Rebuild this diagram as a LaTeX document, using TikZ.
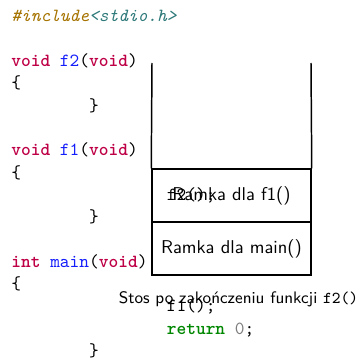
\documentclass[tikz,border=0pt]{standalone}
\usepackage{fontspec}
\definecolor{kwcol}{RGB}{190,0,70}
\definecolor{fncol}{RGB}{20,30,250}
\definecolor{ppcol}{RGB}{165,115,0}
\definecolor{hdcol}{RGB}{45,120,120}
\definecolor{retcol}{RGB}{0,135,0}
\definecolor{numcol}{RGB}{125,125,125}
\newcommand{\kw}[1]{{\color{kwcol}\bfseries #1}}
\newcommand{\fn}[1]{{\color{fncol}#1}}

\begin{document}
\begin{tikzpicture}[x=0.54pt, y=-0.54pt,
  code/.style={anchor=base west, inner sep=0pt, font=\ttfamily},
  frame/.style={draw, line width=0.8pt, minimum width=159*0.54pt, minimum height=53*0.54pt, inner sep=0pt, font=\sffamily}]
\useasboundingbox (0,0) rectangle (361,360);
% kod programu
\node[code] (inc) at (11,22) {\itshape{\color{ppcol}\#include}{\color{hdcol}<stdio.h>}};
\node[code] (deff2) at (11,66.6) {\kw{void} \fn{f2}(\kw{void})};
\node[code] (openf2) at (11,88.9) {\{};
\node[code] (closef2) at (88.8,111.2) {\}};
\node[code] (deff1) at (11,155.8) {\kw{void} \fn{f1}(\kw{void})};
\node[code] (openf1) at (11,178.1) {\{};
\node[code] (callf2) at (166.5,200.4) {f2();};
\node[code] (closef1) at (88.8,222.7) {\}};
\node[code] (defmain) at (11,267.3) {\kw{int} \fn{main}(\kw{void})};
\node[code] (openmain) at (11,289.6) {\{};
\node[code] (callf1) at (166.5,311.9) {f1();};
\node[code] (ret) at (166.5,334.2) {{\color{retcol}\bfseries return} {\color{numcol}0};};
\node[code] (closemain) at (88.8,356.5) {\}};
% stos
\node[frame] (ramkamain) at (231.5,248.5) {Ramka dla main()};
\node[frame] (ramkaf1) at (231.5,195.5) {Ramka dla f1()};
\coordinate (topl) at (152,63);
\coordinate (topr) at (311,63);
\draw[line width=0.8pt] (topl) -- (ramkaf1.north west);
\draw[line width=0.8pt] (topr) -- (ramkaf1.north east);
\node[anchor=base, inner sep=0pt, font=\sffamily\small] (opis) at (238.5,303) {Stos po zakończeniu funkcji \texttt{f2()}};
\end{tikzpicture}
\end{document}
